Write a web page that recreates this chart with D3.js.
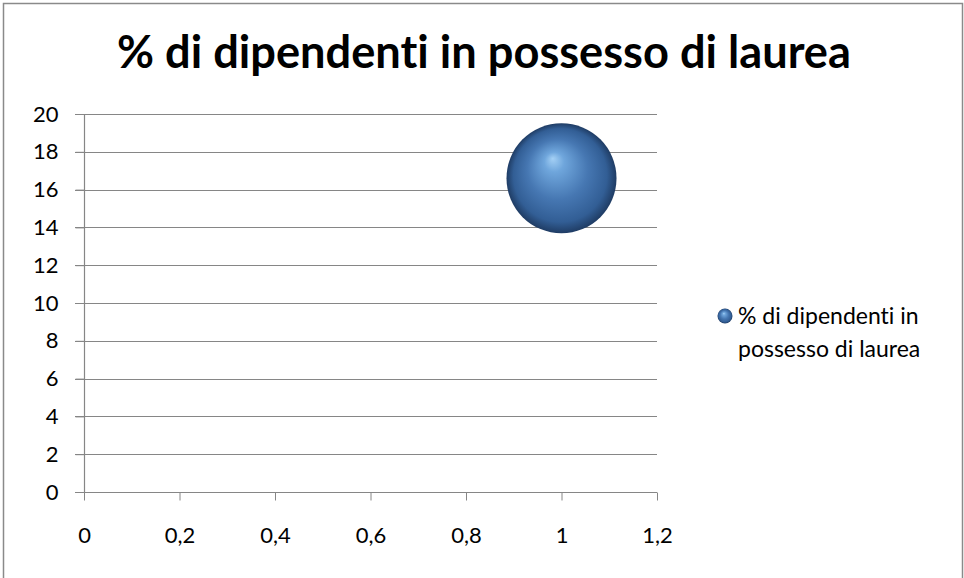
<!DOCTYPE html>
<html>
<head>
<meta charset="utf-8">
<script src="https://cdn.jsdelivr.net/npm/d3@7"></script>
<style>
  html, body { margin: 0; padding: 0; background: #fff; }
  svg { display: block; }
  text { font-family: Lato, "Open Sans", sans-serif; fill: #000; font-variant-ligatures: none; }
</style>
</head>
<body>
<svg id="chart" width="964" height="578"></svg>
<script>
// Bubble series: x position, y value and bubble size
const seriesName = "% di dipendenti in possesso di laurea";
const xValues = [1];
const yValues = [16.6];
const sizeValues = [16.6];

const xTicks = [0, 0.2, 0.4, 0.6, 0.8, 1, 1.2];
const yTicks = [0, 2, 4, 6, 8, 10, 12, 14, 16, 18, 20];

const svg = d3.select("#chart");
const W = 964, H = 578;

// chart frame
svg.append("rect")
  .attr("x", 3.5).attr("y", 3.5)
  .attr("width", W - 5).attr("height", H + 4)
  .attr("fill", "#fff")
  .attr("stroke", "#8a8a8a").attr("stroke-width", 1.5);

const plot = { left: 84, right: 657, top: 114, bottom: 492 };

const x = d3.scaleLinear().domain([0, 1.2]).range([plot.left, plot.right]);
const y = d3.scaleLinear().domain([0, 20]).range([plot.bottom, plot.top]);
const r = d3.scaleSqrt().domain([0, d3.max(sizeValues)]).range([0, 55]);

const fmt = d => String(d).replace(".", ",");
const tickFont = 22;

// horizontal gridlines
svg.append("g")
  .selectAll("line")
  .data(yTicks)
  .join("line")
  .attr("x1", plot.left - 9).attr("x2", plot.right)
  .attr("y1", d => Math.round(y(d)) + 0.5).attr("y2", d => Math.round(y(d)) + 0.5)
  .attr("stroke", "#868686").attr("stroke-width", 1.2);

// y axis
const yAxis = svg.append("g")
  .attr("transform", `translate(${plot.left + 0.5},0)`)
  .call(d3.axisLeft(y).tickValues(yTicks).tickSize(9).tickPadding(17).tickFormat(fmt));
yAxis.select(".domain").attr("stroke", "#868686").attr("stroke-width", 1.2)
  .attr("d", `M0,${plot.top}V${plot.bottom}`);
yAxis.selectAll(".tick line").attr("stroke", "#868686");
yAxis.selectAll("text").attr("font-size", tickFont).attr("fill", "#000")
  .attr("font-family", "Lato, sans-serif");

// x axis
const xAxis = svg.append("g")
  .attr("transform", `translate(0,${Math.round(plot.bottom) + 0.5})`)
  .call(d3.axisBottom(x).tickValues(xTicks).tickSize(8).tickPadding(27).tickFormat(fmt));
xAxis.select(".domain").attr("stroke", "#868686").attr("stroke-width", 1.2)
  .attr("d", `M${plot.left},0H${plot.right}`);
xAxis.selectAll(".tick line").attr("stroke", "#868686");
xAxis.selectAll("text").attr("font-size", tickFont).attr("fill", "#000")
  .attr("font-family", "Lato, sans-serif");

// shaded sphere fill
const defs = svg.append("defs");
const grad = defs.append("radialGradient")
  .attr("id", "sphere")
  .attr("cx", "50%").attr("cy", "50%").attr("r", "50%")
  .attr("fx", "42%").attr("fy", "32%");
grad.append("stop").attr("offset", "0%").attr("stop-color", "#a4d0f5");
grad.append("stop").attr("offset", "18%").attr("stop-color", "#6fa6dc");
grad.append("stop").attr("offset", "55%").attr("stop-color", "#4677b2");
grad.append("stop").attr("offset", "85%").attr("stop-color", "#325e95");
grad.append("stop").attr("offset", "100%").attr("stop-color", "#1f3c64");

const bubbles = xValues.map((v, i) => ({ x: v, y: yValues[i], s: sizeValues[i] }));

svg.append("g")
  .selectAll("circle")
  .data(bubbles)
  .join("circle")
  .attr("cx", d => x(d.x))
  .attr("cy", d => y(d.y))
  .attr("r", d => r(d.s))
  .attr("fill", "url(#sphere)");

// title
const title = svg.append("text")
  .attr("x", 484).attr("y", 68)
  .attr("text-anchor", "middle")
  .attr("font-size", 38)
  .attr("font-weight", "bold")
  .text(seriesName);
const tw = title.node().getComputedTextLength();
title.attr("font-size", 38 * 734 / tw);

// legend
const legend = svg.append("g");
legend.append("circle")
  .attr("cx", 725).attr("cy", 316).attr("r", 7.5)
  .attr("fill", "url(#sphere)");
legend.append("text")
  .attr("x", 738).attr("y", 324)
  .attr("font-size", 23)
  .text("% di dipendenti in");
legend.append("text")
  .attr("x", 738).attr("y", 357)
  .attr("font-size", 23)
  .text("possesso di laurea");
</script>
</body>
</html>
